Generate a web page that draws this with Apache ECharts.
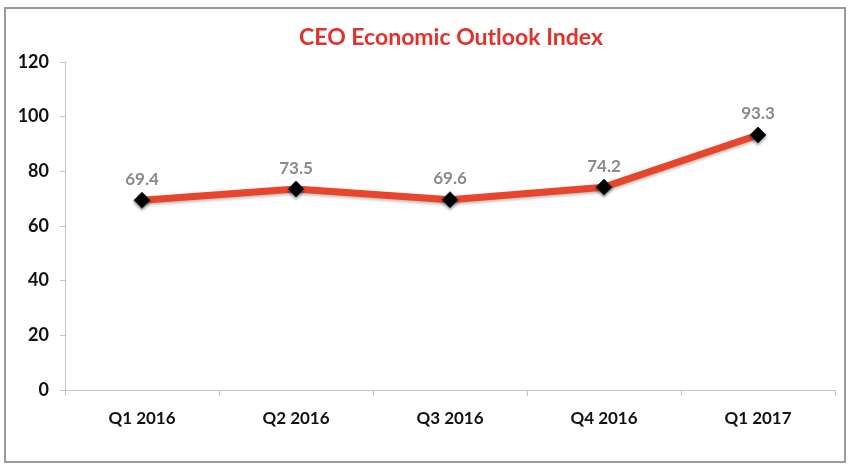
<!DOCTYPE html>
<html>
<head>
<meta charset="utf-8">
<script src="https://cdn.jsdelivr.net/npm/echarts@6/dist/echarts.min.js"></script>
<style>
  html, body { margin: 0; padding: 0; background: #fff; }
  #chart { width: 850px; height: 472px; }
</style>
</head>
<body>
<div id="chart"></div>
<script>
var categories = ['Q1 2016', 'Q2 2016', 'Q3 2016', 'Q4 2016', 'Q1 2017']
var indexValues = [69.4, 73.5, 69.6, 74.2, 93.3]

var font = 'Lato, "Open Sans", sans-serif'

var option = {
  animation: false,
  backgroundColor: '#fff',
  title: {
    text: 'CEO Economic Outlook Index',
    left: 446,
    top: 21,
    textAlign: 'center',
    textStyle: {
      fontFamily: font,
      fontSize: 23,
      fontWeight: 'bold',
      color: '#e3302b'
    }
  },
  graphic: [{
    type: 'rect',
    shape: { x: 5, y: 8, width: 840, height: 454 },
    style: { fill: 'none', stroke: '#9a9a9a', lineWidth: 2 },
    silent: true
  }],
  grid: {
    left: 65,
    right: 15,
    top: 62,
    bottom: 82
  },
  xAxis: {
    type: 'category',
    data: categories,
    boundaryGap: true,
    axisLine: { lineStyle: { color: '#c4c4c4', width: 1 } },
    axisTick: { show: true, length: 6, lineStyle: { color: '#c4c4c4' } },
    axisLabel: {
      margin: 20,
      fontFamily: font,
      fontSize: 17,
      fontWeight: 'bold',
      color: '#111'
    }
  },
  yAxis: {
    type: 'value',
    min: 0,
    max: 120,
    interval: 20,
    splitLine: { show: false },
    axisLine: { show: true, lineStyle: { color: '#c4c4c4', width: 1 } },
    axisTick: { show: true, length: 5, lineStyle: { color: '#c4c4c4' } },
    axisLabel: {
      margin: 16,
      fontFamily: font,
      fontSize: 18,
      fontWeight: 'bold',
      color: '#111'
    }
  },
  series: [{
    type: 'line',
    data: indexValues,
    symbol: 'diamond',
    symbolSize: 16,
    lineStyle: {
      color: '#e8452c',
      width: 7,
      shadowColor: 'rgba(0,0,0,0.25)',
      shadowBlur: 3,
      shadowOffsetY: 2
    },
    itemStyle: {
      color: '#000',
      borderColor: '#1b2a3a',
      borderWidth: 1,
      shadowColor: 'rgba(0,0,0,0.35)',
      shadowBlur: 3,
      shadowOffsetY: 2
    },
    label: {
      show: true,
      position: 'top',
      distance: 4,
      fontFamily: font,
      fontSize: 17,
      fontWeight: 'bold',
      color: '#8a8a8a'
    }
  }]
}

var chart = echarts.init(document.getElementById('chart'))
chart.setOption(option)
</script>
</body>
</html>
